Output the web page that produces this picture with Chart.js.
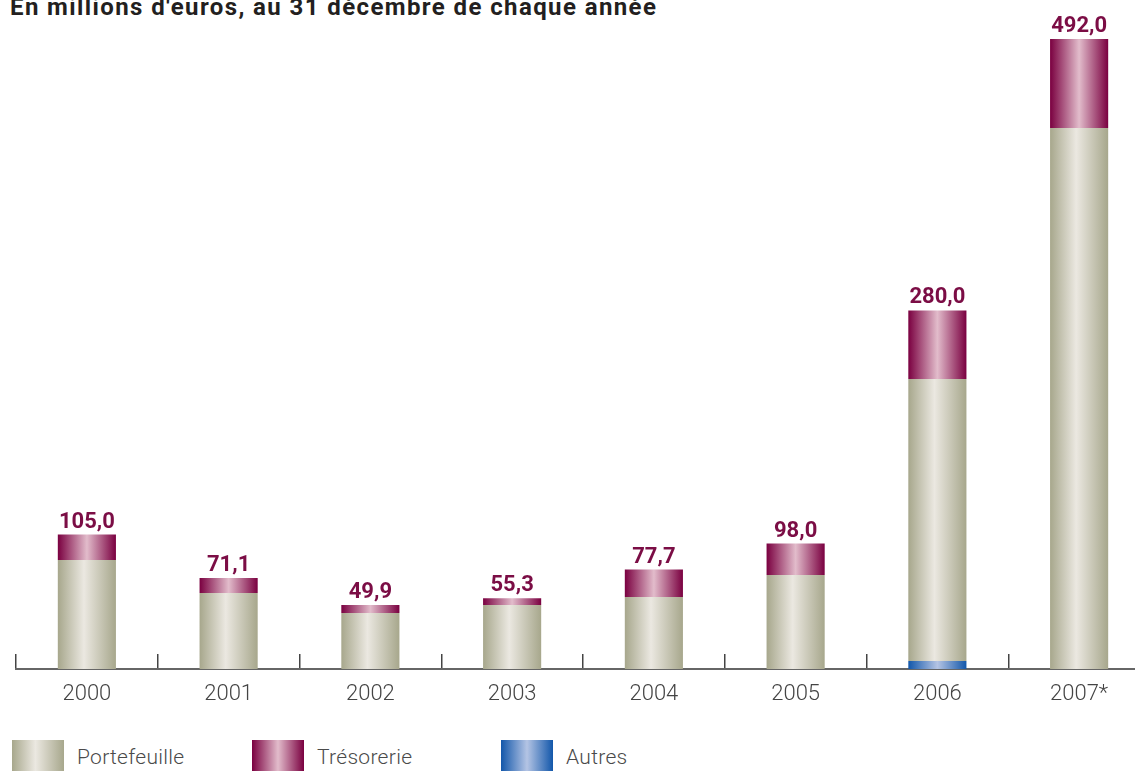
<!DOCTYPE html>
<html>
<head>
<meta charset="utf-8">
<script src="https://cdn.jsdelivr.net/npm/chart.js@4.4.0/dist/chart.umd.min.js"></script>
<style>
    body { margin: 0; width: 1135px; height: 771px; overflow: hidden; background: #fff; position: relative; font-family: Roboto, sans-serif; }
    #title { position: absolute; left: 10px; top: -5px; font-size: 24px; line-height: 24px; font-weight: 700; letter-spacing: 1.4px; color: #231f20; white-space: nowrap; }
    #chartBox { position: absolute; left: 0; top: 0; width: 1150px; height: 720px; }
    .legendItem { position: absolute; top: 740px; height: 40px; }
    .legendBox { position: absolute; left: 0; top: 0; width: 52px; height: 40px; }
    .legendText { position: absolute; left: 65px; top: 7px; font-size: 21px; line-height: 21px; font-weight: 300; letter-spacing: 0.3px; color: #4a4a4a; white-space: nowrap; }
</style>
</head>
<body>
<div id="title">En millions d'euros, au 31 décembre de chaque année</div>
<div id="chartBox"><canvas id="barChart"></canvas></div>
<div id="legend"></div>
<script>
// valeurs (millions d'euros)
const categories = ['2000', '2001', '2002', '2003', '2004', '2005', '2006', '2007*'];
const autres = [0, 0, 0, 0, 0, 0, 6.2, 0];
const portefeuille = [85.1, 59.4, 43.7, 50.0, 56.2, 73.4, 220.3, 422.5];
const tresorerie = [19.9, 11.7, 6.2, 5.3, 21.5, 24.6, 53.5, 69.5];

const portefeuilleStops = [[0, '#a7a78c'], [0.45, '#ebe8e1'], [1, '#a7a78c']];
const tresorerieStops = [[0, '#7a0040'], [0.5, '#e2bccb'], [1, '#7a0040']];
const autresStops = [[0, '#1257aa'], [0.5, '#b4c4e4'], [1, '#1257aa']];

const barShare = 0.41;

function barGradient(stops) {
    return function(context) {
        let chart = context.chart;
        if (!chart.chartArea || context.dataIndex === undefined) {
            return stops[1][1];
        }
        let x = chart.scales.x.getPixelForValue(context.dataIndex);
        let half = (chart.chartArea.width / categories.length) * barShare / 2;
        let gradient = chart.ctx.createLinearGradient(x - half, 0, x + half, 0);
        stops.forEach(s => gradient.addColorStop(s[0], s[1]));
        return gradient;
    };
}

// total au-dessus de chaque barre
const totalLabels = {
    id: 'totalLabels',
    afterDatasetsDraw(chart) {
        let c = chart.ctx;
        c.save();
        c.font = '700 22px Roboto';
        c.fillStyle = '#7b0d45';
        c.textAlign = 'center';
        c.textBaseline = 'alphabetic';
        categories.forEach((cat, i) => {
            let total = autres[i] + portefeuille[i] + tresorerie[i];
            let x = chart.scales.x.getPixelForValue(i);
            let y = chart.scales.y.getPixelForValue(total);
            c.fillText(total.toFixed(1).replace('.', ','), x, y - 7);
        });
        c.restore();
    }
};

const ctx = document.getElementById('barChart').getContext('2d');
window.chart = new Chart(ctx, {
    type: 'bar',
    data: {
        labels: categories,
        datasets: [
            { label: 'Autres', data: autres, backgroundColor: barGradient(autresStops) },
            { label: 'Portefeuille', data: portefeuille, backgroundColor: barGradient(portefeuilleStops) },
            { label: 'Trésorerie', data: tresorerie, backgroundColor: barGradient(tresorerieStops) }
        ]
    },
    options: {
        responsive: true,
        maintainAspectRatio: false,
        animation: false,
        layout: { padding: { top: 39, left: 16, right: 0, bottom: 0 } },
        datasets: { bar: { barPercentage: barShare, categoryPercentage: 1, borderWidth: 0 } },
        scales: {
            x: {
                stacked: true,
                grid: { offset: true, drawOnChartArea: false, drawTicks: true, tickLength: -15, color: '#444', lineWidth: 1.5 },
                border: { display: true, color: '#666', width: 2 },
                ticks: { color: '#444', padding: 27, font: { family: 'Roboto', size: 22, weight: 300 } },
                afterFit: function(scale) { scale.height = 51; }
            },
            y: { stacked: true, display: false, min: 0, max: 492 }
        },
        plugins: {
            legend: { display: false },
            tooltip: { enabled: false },
            title: { display: false }
        }
    },
    plugins: [totalLabels]
});

// légende
const legendItems = [
    { name: 'Portefeuille', stops: portefeuilleStops, left: 12 },
    { name: 'Trésorerie', stops: tresorerieStops, left: 252 },
    { name: 'Autres', stops: autresStops, left: 501 }
];
let legendEl = document.getElementById('legend');
legendItems.forEach(item => {
    let div = document.createElement('div');
    div.className = 'legendItem';
    div.style.left = item.left + 'px';
    let box = document.createElement('div');
    box.className = 'legendBox';
    box.style.background = 'linear-gradient(to right, ' + item.stops.map(s => s[1] + ' ' + (s[0] * 100) + '%').join(', ') + ')';
    let txt = document.createElement('div');
    txt.className = 'legendText';
    txt.textContent = item.name;
    div.appendChild(box);
    div.appendChild(txt);
    legendEl.appendChild(div);
});
</script>
</body>
</html>
